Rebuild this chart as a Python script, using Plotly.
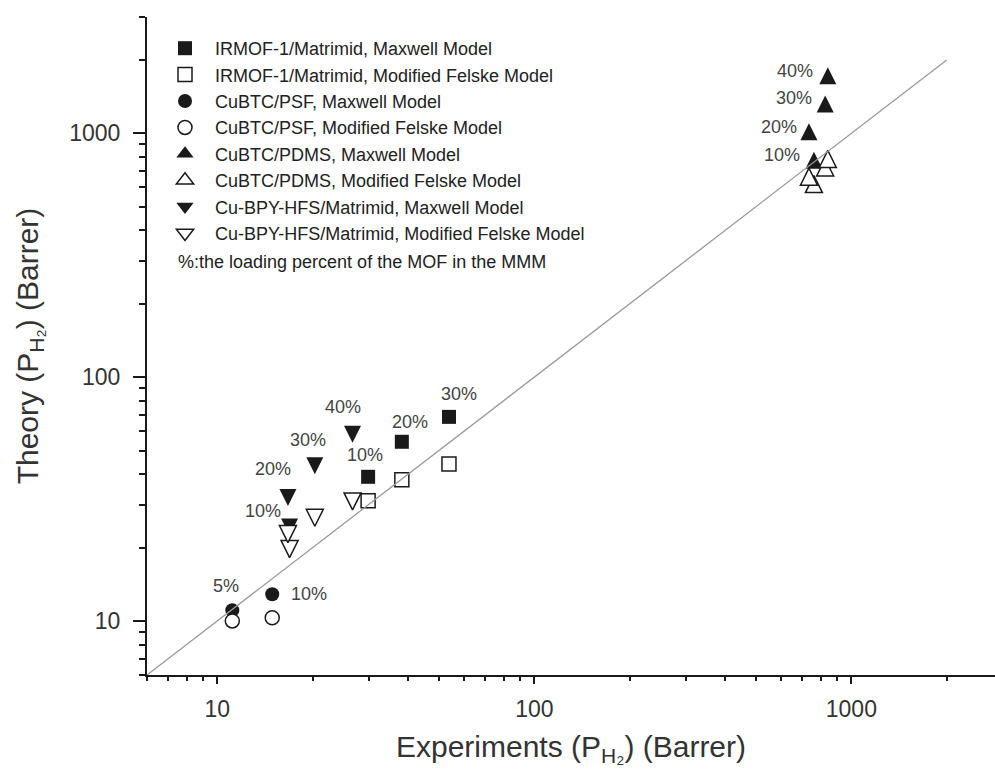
import math
import plotly.graph_objects as go

# H2 permeability (Barrer): experiment vs. model prediction
irmof_loading = [10, 20, 30]
irmof_exp = [29.9, 38.2, 53.8]
irmof_maxwell = [39.0, 54.3, 68.7]
irmof_felske = [31.1, 37.9, 44.0]

psf_loading = [5, 10]
psf_exp = [11.15, 14.9]
psf_maxwell = [11.07, 12.87]
psf_felske = [10.0, 10.3]

pdms_loading = [10, 20, 30, 40]
pdms_exp = [762, 735, 827, 843]
pdms_maxwell = [776, 1015, 1318, 1723]
pdms_felske = [619, 664, 724, 785]

bpy_loading = [10, 20, 30, 40]
bpy_exp = [16.9, 16.7, 20.3, 26.7]
bpy_maxwell = [24.3, 32.1, 43.3, 58.3]
bpy_felske = [19.7, 22.7, 26.5, 30.9]

parity_line = [6, 2000]

major_ticks = [10, 100, 1000]
major_labels = ["10", "100", "1000"]

# ---- styling ----
INK = "#1a1a1a"
TEXT = "#333333"
FONT = "Arial, Liberation Sans, sans-serif"
SQ, CI, TR = 14, 14, 17
OPEN_W = 1.5

x_lo = math.log10(6)
x_hi = x_lo + 848 / 317
y_lo, y_hi = math.log10(6), math.log10(3000)

minor_vals = [m * 10 ** e for e in range(0, 4) for m in range(2, 10)]


def filled(sym, size, **kw):
    return dict(symbol=sym, size=size, color=INK, line=dict(width=0, color=INK), **kw)


def hollow(sym, size, **kw):
    return dict(symbol=sym, size=size, color="white", line=dict(width=OPEN_W, color=INK), **kw)


# isosceles triangles, re-centred on the data point
up = dict(angle=180, standoff=TR / 2)
down = dict(angle=0, standoff=TR / 2)

series = [
    # (name, x, y, plot marker, legend marker, legend rank)
    ("IRMOF-1/Matrimid, Maxwell Model", irmof_exp, irmof_maxwell,
     filled("square", SQ), filled("square", SQ), 1),
    ("CuBTC/PSF, Maxwell Model", psf_exp, psf_maxwell,
     filled("circle", CI), filled("circle", CI), 3),
    ("CuBTC/PDMS, Maxwell Model", pdms_exp, pdms_maxwell,
     filled("arrow-down", TR, **up), filled("triangle-up", 15), 5),
    ("Cu-BPY-HFS/Matrimid, Maxwell Model", bpy_exp, bpy_maxwell,
     filled("arrow-down", TR, **down), filled("triangle-down", 15), 7),
    ("IRMOF-1/Matrimid, Modified Felske Model", irmof_exp, irmof_felske,
     hollow("square", SQ), hollow("square", SQ), 2),
    ("CuBTC/PSF, Modified Felske Model", psf_exp, psf_felske,
     hollow("circle", CI), hollow("circle", CI), 4),
    ("CuBTC/PDMS, Modified Felske Model", pdms_exp, pdms_felske,
     hollow("arrow-down", TR, **up), hollow("triangle-up", 15), 6),
    ("Cu-BPY-HFS/Matrimid, Modified Felske Model", bpy_exp, bpy_felske,
     hollow("arrow-down", TR, **down), hollow("triangle-down", 15), 8),
]

fig = go.Figure()
for name, xs, ys, marker, _, _ in series:
    fig.add_trace(go.Scatter(x=xs, y=ys, mode="markers", name=name, marker=marker,
                             showlegend=False, cliponaxis=False))

# legend keys
for name, _, _, _, lmarker, rank in series:
    fig.add_trace(go.Scatter(x=[None], y=[None], mode="markers", name=name,
                             marker=lmarker, legendrank=rank, hoverinfo="skip"))

fig.add_trace(go.Scatter(x=parity_line, y=parity_line, mode="lines",
                         line=dict(color="#9a9a9a", width=1.3),
                         showlegend=False, hoverinfo="skip"))

# loading-percent labels: (x, y, loading, offsets (dx, dy) in px)
label_sets = [
    (irmof_exp, irmof_maxwell, irmof_loading, [(-3, 22), (8, 20), (10, 23)]),
    (bpy_exp, bpy_maxwell, bpy_loading, [(-27, 16), (-15, 28), (-7, 26), (-10, 27)]),
    (psf_exp, psf_maxwell, psf_loading, [(-6, 24), (37, 0)]),
    (pdms_exp, pdms_maxwell, pdms_loading, [(-32, 5), (-30, 5), (-31, 6), (-33, 5)]),
]
annotations = []
for xs, ys, loads, offs in label_sets:
    for xv, yv, ld, (dx, dy) in zip(xs, ys, loads, offs):
        annotations.append(dict(x=math.log10(xv), y=math.log10(yv), xref="x", yref="y",
                                text=f"{ld}%", showarrow=False, xshift=dx, yshift=dy,
                                font=dict(family=FONT, size=18, color="#444444")))

annotations.append(dict(x=(176 - 147) / 848, y=(675 - 262) / 658, xref="paper", yref="paper",
                        xanchor="left", yanchor="middle", showarrow=False,
                        text="%:the loading percent of the MOF in the MMM",
                        font=dict(family=FONT, size=18, color="#222222")))

axis_common = dict(
    type="log", showline=True, linewidth=2, linecolor=INK, mirror=False,
    showgrid=False, zeroline=False, ticks="outside", tickwidth=1.5, tickcolor=INK,
    tickvals=major_ticks, ticktext=major_labels,
    tickfont=dict(family=FONT, size=23, color=TEXT),
)

fig.update_layout(
    width=995, height=779,
    margin=dict(l=147, r=0, t=17, b=104),
    paper_bgcolor="white", plot_bgcolor="white",
    font=dict(family=FONT, color=TEXT),
    showlegend=True,
    legend=dict(x=(155 - 147) / 848, y=(675 - 30) / 658, xanchor="left", yanchor="top",
                bgcolor="rgba(0,0,0,0)", borderwidth=0, itemwidth=50,
                font=dict(family=FONT, size=18, color="#222222"), traceorder="normal"),
    xaxis=dict(
        **axis_common, range=[x_lo, x_hi], ticklen=7, ticklabelstandoff=5,
        minor=dict(tickvals=minor_vals, ticks="outside", ticklen=4, tickwidth=1.5,
                   tickcolor=INK, showgrid=False),
        title=dict(text="Experiments (P<sub>H₂</sub>) (Barrer)",
                   font=dict(family=FONT, size=30, color=TEXT), standoff=15),
    ),
    yaxis=dict(
        **axis_common, range=[y_lo, y_hi], ticklen=12, ticklabelstandoff=8,
        minor=dict(tickvals=minor_vals, ticks="outside", ticklen=6, tickwidth=1.5,
                   tickcolor=INK, showgrid=False),
        title=dict(text="Theory (P<sub>H₂</sub>) (Barrer)",
                   font=dict(family=FONT, size=30, color=TEXT), standoff=22),
    ),
    annotations=annotations,
)

fig.write_html("out.html")
